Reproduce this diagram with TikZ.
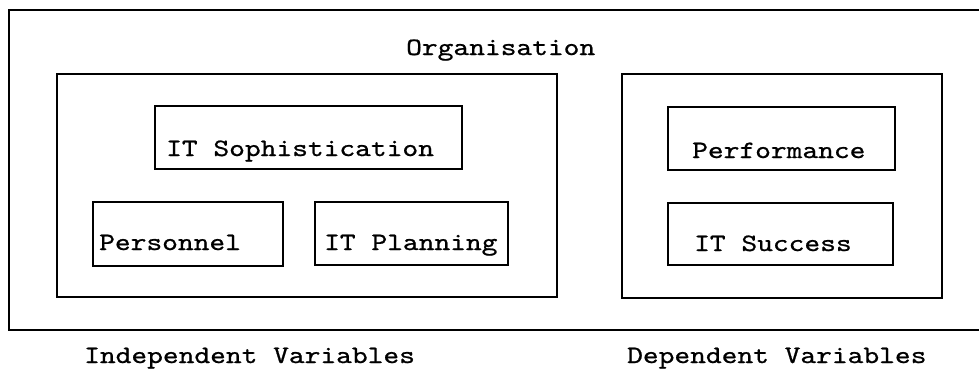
\documentclass[tikz,border=0pt]{standalone}
\usepackage{fontspec}
\setmonofont{lmmono10-regular.otf}[FakeStretch=1.2, FakeBold=0.8]
\begin{document}
\begin{tikzpicture}[x=1pt,y=-1pt,
  frame/.style={draw=black, line width=2.6pt, inner sep=0pt, outer sep=0pt,
    anchor=north west, rectangle},
  lbl/.style={inner sep=0pt, anchor=base west,
    font=\ttfamily\fontsize{25}{30}\selectfont}]
\useasboundingbox (0,0) rectangle (979,383);
\clip (0,0) rectangle (979,383);

% outer organisation frame (runs past the right edge)
\node[frame, minimum width=990pt, minimum height=320pt] (org) at (9,10) {};
\node[lbl] (orgtxt) at (406,55) {Organisation};

% independent variables group
\node[frame, minimum width=500pt, minimum height=223pt] (indep) at (57,74) {};
\node[frame, minimum width=307pt, minimum height=63pt] (soph) at (155,106) {};
\node[lbl] (sophtxt) at (166,156) {IT Sophistication};
\node[frame, minimum width=190pt, minimum height=64pt] (pers) at (93,202) {};
\node[lbl] (perstxt) at (99,250) {Personnel};
\node[frame, minimum width=193pt, minimum height=63pt] (plan) at (315,202) {};
\node[lbl] (plantxt) at (324,250) {IT Planning};

% dependent variables group
\node[frame, minimum width=320pt, minimum height=224pt] (dep) at (622,74) {};
\node[frame, minimum width=227pt, minimum height=63pt] (perf) at (668,107) {};
\node[lbl] (perftxt) at (692,158) {Performance};
\node[frame, minimum width=225pt, minimum height=62pt] (succ) at (668,203) {};
\node[lbl] (succtxt) at (694,251) {IT Success};

% captions
\node[lbl] (indeplbl) at (84,363) {Independent Variables};
\node[lbl] (deplbl) at (627,363) {Dependent Variables};
\end{tikzpicture}
\end{document}
